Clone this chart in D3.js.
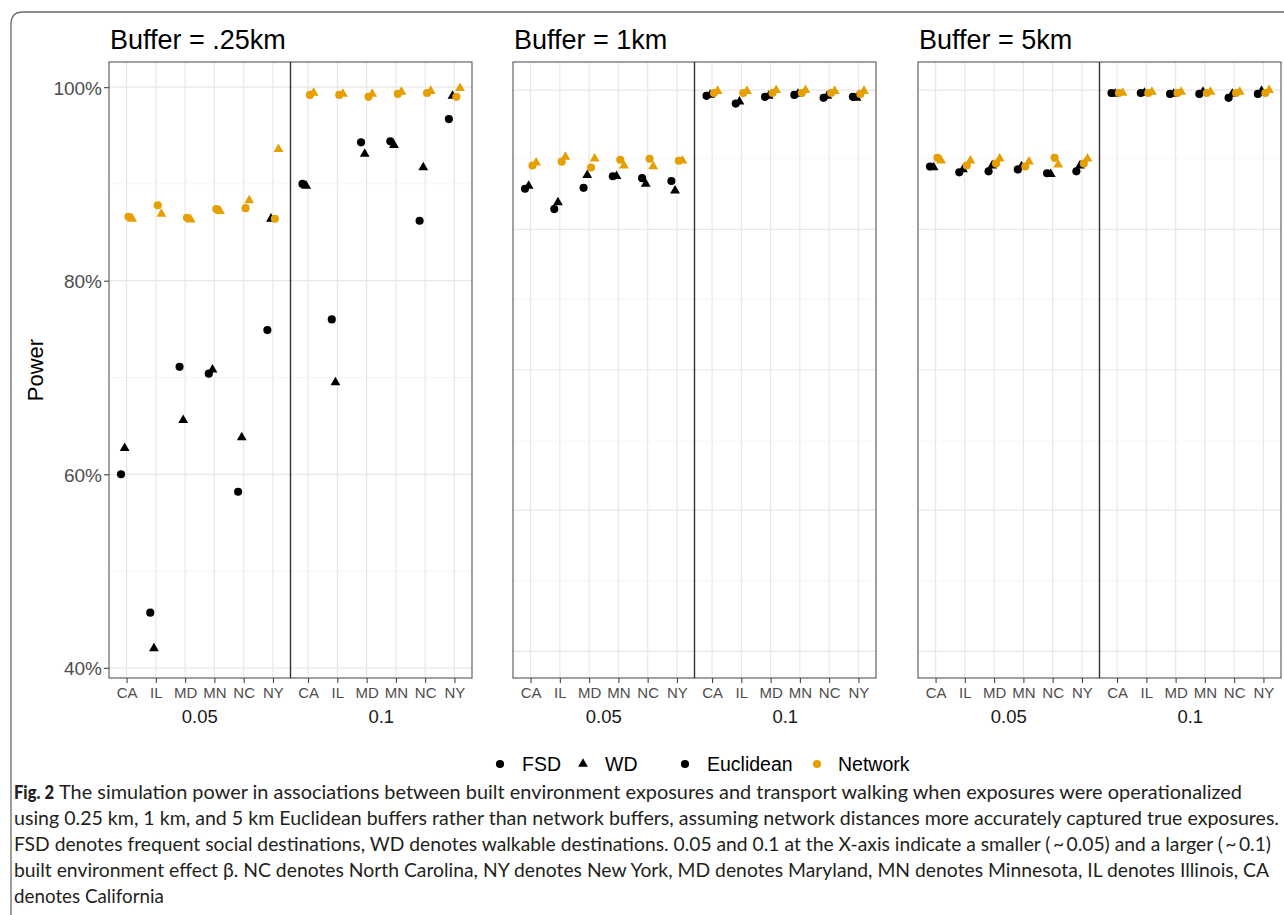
<!DOCTYPE html>
<html><head><meta charset="utf-8">
<script src="https://cdn.jsdelivr.net/npm/d3@7"></script>
<style>body{margin:0;background:#fff} svg{display:block}</style>
</head><body>
<svg id="c" width="1284" height="915"></svg>
<script>
// ---------- data ----------
const buffers = ["Buffer = .25km", "Buffer = 1km", "Buffer = 5km"];
const states = ["CA", "IL", "MD", "MN", "NC", "NY"];
const effects = ["0.05", "0.1"];
const yTicks = [40, 60, 80, 100];
const yMinorTicks = [50, 70, 90];
// gridlines of the 1km / 5km panels (drawn at their own break positions)
const wideMajorGrid = [99.7, 85.3, 70.8, 56.3, 41.7];
const wideMinorGrid = [92.6, 78.1, 63.4, 49.0];
const measures = ["FSD", "WD"];
const bufferTypes = ["Euclidean", "Network"];
const typeColors = ["#000000", "#E69F00"];

// power (%) : first 6 = effect 0.05 (CA..NY), last 6 = effect 0.1 (CA..NY)
const b025_FSD_Euclidean = [60.0, 45.7, 71.1, 70.4, 58.2, 74.9, 90.0, 76.0, 94.3, 94.4, 86.2, 96.7];
const b025_WD_Euclidean  = [62.7, 42.0, 65.6, 70.8, 63.8, 86.4, 89.8, 69.5, 93.1, 94.0, 91.7, 99.1];
const b025_FSD_Network   = [86.6, 87.8, 86.5, 87.4, 87.5, 86.4, 99.2, 99.2, 99.0, 99.3, 99.4, 99.0];
const b025_WD_Network    = [86.4, 86.9, 86.3, 87.2, 88.3, 93.6, 99.4, 99.3, 99.3, 99.5, 99.6, 99.9];

const b1_FSD_Euclidean = [89.5, 87.4, 89.6, 90.8, 90.6, 90.3, 99.1, 98.3, 99.0, 99.2, 98.9, 99.0];
const b1_WD_Euclidean  = [89.8, 88.1, 90.9, 90.8, 90.0, 89.3, 99.2, 98.5, 99.1, 99.3, 99.1, 98.9];
const b1_FSD_Network   = [91.9, 92.3, 91.7, 92.5, 92.6, 92.4, 99.4, 99.4, 99.4, 99.4, 99.4, 99.3];
const b1_WD_Network    = [92.2, 92.8, 92.6, 91.9, 91.8, 92.4, 99.6, 99.6, 99.7, 99.7, 99.6, 99.6];

const b5_FSD_Euclidean = [91.8, 91.2, 91.3, 91.5, 91.1, 91.3, 99.4, 99.4, 99.3, 99.3, 98.9, 99.3];
const b5_WD_Euclidean  = [91.7, 91.5, 91.9, 91.8, 91.0, 91.9, 99.3, 99.4, 99.3, 99.5, 99.3, 99.6];
const b5_FSD_Network   = [92.7, 91.9, 92.1, 91.8, 92.7, 92.1, 99.4, 99.4, 99.4, 99.4, 99.4, 99.4];
const b5_WD_Network    = [92.4, 92.4, 92.6, 92.3, 92.0, 92.6, 99.4, 99.5, 99.5, 99.5, 99.5, 99.7];

const legendShapeLabels = ["FSD", "WD"];
const legendColorLabels = ["Euclidean", "Network"];

const captionBold = "Fig. 2";
const captionLines = [
  "The simulation power in associations between built environment exposures and transport walking when exposures were operationalized",
  "using 0.25 km, 1 km, and 5 km Euclidean buffers rather than network buffers, assuming network distances more accurately captured true exposures.",
  "FSD denotes frequent social destinations, WD denotes walkable destinations. 0.05 and 0.1 at the X-axis indicate a smaller (\u2009~\u20090.05) and a larger (\u2009~\u20090.1)",
  "built environment effect \u03b2. NC denotes North Carolina, NY denotes New York, MD denotes Maryland, MN denotes Minnesota, IL denotes Illinois, CA",
  "denotes California"
];

// ---------- assemble ----------
const seriesByBuffer = [
  [b025_FSD_Euclidean, b025_WD_Euclidean, b025_FSD_Network, b025_WD_Network],
  [b1_FSD_Euclidean, b1_WD_Euclidean, b1_FSD_Network, b1_WD_Network],
  [b5_FSD_Euclidean, b5_WD_Euclidean, b5_FSD_Network, b5_WD_Network]
];
const groupDefs = [
  {measure: 0, type: 0}, {measure: 1, type: 0}, {measure: 0, type: 1}, {measure: 1, type: 1}
];
const dodge = [-0.19, -0.065, 0.065, 0.19];

// ---------- layout ----------
const svg = d3.select("#c");
const FONT = "'Liberation Sans', Arial, Helvetica, sans-serif";
const panelLeft = [109, 513, 918];
const panelW = 363, pTop = 62, pBottom = 678;

const y = d3.scaleLinear().domain([38.95, 102.6]).range([pBottom, pTop]);

// journal frame
svg.append("path")
  .attr("d", `M 11 925 L 11 24 Q 11 12 23 12 L 1290 12`)
  .attr("fill", "none").attr("stroke", "#6a6a6a").attr("stroke-width", 1.3);

const symCircle = d3.symbol().type(d3.symbolCircle).size(52);
const symTri = d3.symbol().type(d3.symbolTriangle).size(42);

buffers.forEach((title, p) => {
  const g = svg.append("g");
  const x0p = panelLeft[p];

  g.append("text").attr("x", x0p + 1).attr("y", 49)
    .attr("font-family", FONT).attr("font-size", 27).attr("fill", "#000")
    .text(title);

  effects.forEach((eff, e) => {
    const fx0 = x0p + e * panelW / 2, fx1 = fx0 + panelW / 2;
    const x = d3.scalePoint().domain(states).range([fx0, fx1]).padding(0.6);
    const step = x.step();
    const fg = g.append("g");

    // gridlines
    const minor = p === 0 ? yMinorTicks : wideMinorGrid;
    const major = p === 0 ? yTicks : wideMajorGrid;
    fg.selectAll(".mi").data(minor).join("line")
      .attr("x1", fx0).attr("x2", fx1)
      .attr("y1", d => y(d)).attr("y2", d => y(d))
      .attr("stroke", "#f0f0f0").attr("stroke-width", 0.7);
    fg.selectAll(".ma").data(major).join("line")
      .attr("x1", fx0).attr("x2", fx1)
      .attr("y1", d => y(d)).attr("y2", d => y(d))
      .attr("stroke", "#e8e8e8").attr("stroke-width", 1.2);
    fg.selectAll(".vx").data(states).join("line")
      .attr("x1", d => x(d)).attr("x2", d => x(d))
      .attr("y1", pTop).attr("y2", pBottom)
      .attr("stroke", "#e8e8e8").attr("stroke-width", 1.2);

    // points
    groupDefs.forEach((gd, gi) => {
      const vals = seriesByBuffer[p][gi].slice(e * 6, e * 6 + 6);
      fg.selectAll(".pt" + gi).data(vals).join("path")
        .attr("transform", (v, i) => `translate(${x(states[i]) + dodge[gi] * step},${y(v)})`)
        .attr("d", gd.measure === 0 ? symCircle : symTri)
        .attr("fill", typeColors[gd.type]);
    });

    // x axis
    const ax = fg.append("g").attr("transform", `translate(0,${pBottom})`)
      .call(d3.axisBottom(x).tickSize(5).tickSizeOuter(0));
    ax.select(".domain").remove();
    ax.selectAll("line").attr("stroke", "#444").attr("stroke-width", 1.1);
    ax.selectAll("text").attr("y", 20).attr("dy", 0)
      .attr("font-family", FONT).attr("font-size", 15).attr("fill", "#4d4d4d");

    // effect label
    fg.append("text").attr("x", (fx0 + fx1) / 2).attr("y", 723)
      .attr("text-anchor", "middle").attr("font-family", FONT)
      .attr("font-size", 18.5).attr("fill", "#1a1a1a").text(eff);
  });

  // panel borders
  g.append("rect").attr("x", x0p).attr("y", pTop).attr("width", panelW).attr("height", pBottom - pTop)
    .attr("fill", "none").attr("stroke", "#555").attr("stroke-width", 1.1);
  g.append("line").attr("x1", x0p + panelW / 2).attr("x2", x0p + panelW / 2)
    .attr("y1", pTop).attr("y2", pBottom).attr("stroke", "#333").attr("stroke-width", 1.4);

  if (p === 0) {
    const ay = g.append("g").attr("transform", `translate(${x0p},0)`)
      .call(d3.axisLeft(y).tickValues(yTicks).tickFormat(d => d + "%").tickSize(5).tickSizeOuter(0));
    ay.select(".domain").remove();
    ay.selectAll("line").attr("stroke", "#444").attr("stroke-width", 1.1);
    ay.selectAll("text").attr("x", -7).attr("dy", "0.36em")
      .attr("font-family", FONT).attr("font-size", 19).attr("fill", "#4d4d4d");
  }
});

// y title
svg.append("text").attr("transform", `translate(43,${(pTop + pBottom) / 2}) rotate(-90)`)
  .attr("text-anchor", "middle").attr("font-family", FONT).attr("font-size", 22)
  .attr("fill", "#000").text("Power");

// legend
const lg = svg.append("g");
const legY = 764;
const shapeItems = [{sym: symCircle, x: 500, tx: 522}, {sym: symTri, x: 583, tx: 605}];
shapeItems.forEach((it, i) => {
  lg.append("path").attr("transform", `translate(${it.x},${legY})`).attr("d", it.sym).attr("fill", "#000");
  lg.append("text").attr("x", it.tx).attr("y", legY + 7).attr("font-family", FONT)
    .attr("font-size", 19.5).attr("fill", "#000").text(legendShapeLabels[i]);
});
const colorItems = [{x: 685, tx: 707}, {x: 817, tx: 838}];
colorItems.forEach((it, i) => {
  lg.append("path").attr("transform", `translate(${it.x},${legY})`).attr("d", symCircle).attr("fill", typeColors[i]);
  lg.append("text").attr("x", it.tx).attr("y", legY + 7).attr("font-family", FONT)
    .attr("font-size", 19.5).attr("fill", "#000").text(legendColorLabels[i]);
});

// caption
const CAPFONT = "Lato, 'Open Sans', sans-serif";
const capBase = [799, 825, 851, 877, 903];
const capStart = [59, 14, 14, 14, 14];
const capEnd = [1242, 1279, 1271, 1269, null];
svg.append("text").attr("x", 14).attr("y", capBase[0]).attr("font-family", CAPFONT)
  .attr("font-weight", 900).attr("font-size", 19).attr("fill", "#231f20")
  .attr("textLength", 40).attr("lengthAdjust", "spacingAndGlyphs").text(captionBold);
captionLines.forEach((ln, i) => {
  const t = svg.append("text").attr("x", capStart[i]).attr("y", capBase[i])
    .attr("font-family", CAPFONT).attr("font-size", 18.8).attr("fill", "#231f20").text(ln);
  if (capEnd[i]) t.attr("textLength", capEnd[i] - capStart[i]).attr("lengthAdjust", "spacingAndGlyphs");
});
</script>
</body></html>
